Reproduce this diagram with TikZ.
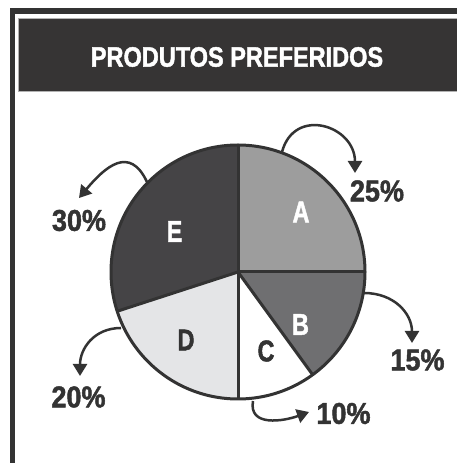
\documentclass[tikz,border=0pt]{standalone}
\usepackage{fontspec}
\usetikzlibrary{arrows.meta}
\newfontfamily\titlefnt[FakeStretch=0.84,FakeBold=1.5]{Liberation Sans}
\newfontfamily\letterfnt[FakeStretch=0.78,FakeBold=1.5]{Liberation Sans}
\newfontfamily\pctfnt[FakeStretch=0.9,FakeBold=1.5]{Liberation Sans}
\definecolor{frameC}{HTML}{333333}
\definecolor{headC}{HTML}{363434}
\definecolor{sliceA}{HTML}{9D9D9D}
\definecolor{sliceB}{HTML}{6F6F71}
\definecolor{sliceC}{HTML}{FFFFFF}
\definecolor{sliceD}{HTML}{E4E5E7}
\definecolor{sliceE}{HTML}{454446}
\tikzset{
  slice/.style={draw=frameC, line width=3pt, line join=round},
  letter/.style={text=white, font=\letterfnt\bfseries\fontsize{30}{30}\selectfont, inner sep=0pt},
  letterdark/.style={text=frameC, font=\letterfnt\bfseries\fontsize{30}{30}\selectfont, inner sep=0pt},
  pct/.style={text=frameC, font=\pctfnt\bfseries\fontsize{30}{30}\selectfont, inner sep=0pt},
  callout/.style={draw=frameC, line width=2.5pt, -{Triangle[width=14pt,length=12pt]}},
}
\begin{document}
\begin{tikzpicture}[x=1pt,y=1pt]
\useasboundingbox (0,0) rectangle (456,463);
\fill[white] (0,0) rectangle (456,463);
% frame
\draw[frameC, line width=5.5pt] (12.5,-20) -- (12.5,452) -- (480,452);
\fill[headC] (18,372) rectangle (480,445);
\draw[gray!60, line width=0.6pt] (18,372) -- (18,445) -- (480,445);
\draw[gray!60, line width=0.6pt] (18,372) -- (480,372);
\node[text=white, font=\titlefnt\bfseries\fontsize{28}{28}\selectfont, inner sep=0pt] (title) at (237,406) {PRODUTOS PREFERIDOS};
% pie
\coordinate (O) at (238,191);
\fill[sliceA] (O) -- ++(90:127) arc[start angle=90, end angle=0, radius=127] -- cycle;
\fill[sliceB] (O) -- ++(0:127) arc[start angle=0, end angle=-54, radius=127] -- cycle;
\fill[sliceC] (O) -- ++(-54:127) arc[start angle=-54, end angle=-90, radius=127] -- cycle;
\fill[sliceD] (O) -- ++(-90:127) arc[start angle=-90, end angle=-162, radius=127] -- cycle;
\fill[sliceE] (O) -- ++(-162:127) arc[start angle=-162, end angle=-270, radius=127] -- cycle;
\draw[slice] (O) circle[radius=127];
\draw[slice] (O) -- ++(90:127);
\draw[slice] (O) -- ++(0:127);
\draw[slice] (O) -- ++(-54:127);
\draw[slice] (O) -- ++(-90:127);
\draw[slice] (O) -- ++(-162:127);
% letters
\node[letter] (lA) at (301,251) {A};
\node[letter] (lB) at (300.5,138.5) {B};
\node[letterdark] (lC) at (266,112) {C};
\node[letterdark] (lD) at (186,123) {D};
\node[letter] (lE) at (174.5,231.5) {E};
% percentages
\node[pct] (pA) at (377,272) {25\%};
\node[pct] (pB) at (417.5,103) {15\%};
\node[pct] (pC) at (343.5,49.5) {10\%};
\node[pct] (pD) at (78.5,66) {20\%};
\node[pct] (pE) at (79,242.5) {30\%};
% callout arrows
\coordinate (sA) at (282,311);
\coordinate (tA) at (355,290);
\coordinate (sB) at (364,170);
\coordinate (tB) at (412,120);
\coordinate (sC) at (253,62);
\coordinate (tC) at (309,51);
\coordinate (sD) at (121,135);
\coordinate (tD) at (80,87);
\coordinate (sE) at (147,281);
\coordinate (tE) at (79,265);
\draw[callout] (sA) to[out=75, in=90, looseness=1.6] (tA);
\draw[callout] (sB) to[out=0, in=90, looseness=1.1] (tB);
\draw[callout] (sC) to[out=-100, in=200, looseness=1.2] (tC);
\draw[callout] (sD) to[out=180, in=90, looseness=1.1] (tD);
\draw[callout] (sE) to[out=115, in=50, looseness=1.5] (tE);
\end{tikzpicture}
\end{document}
